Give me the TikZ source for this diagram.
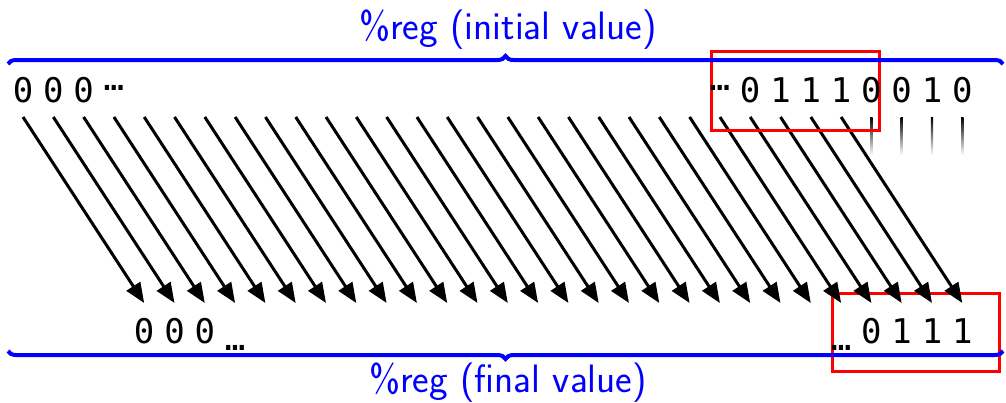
\documentclass[tikz,border=0pt]{standalone}
\usepackage{fontspec}
\newfontfamily\bitfont{DejaVu Sans Mono}
\usepackage{tikz}
\usetikzlibrary{arrows.meta,positioning,decorations.pathreplacing}
\newcommand{\cellx}[1]{23+30.3*#1}
\tikzset{
  bit/.style={font=\bitfont\fontsize{17}{17}\selectfont, inner sep=0pt, anchor=base},
  shiftarrow/.style={-{Triangle[length=10pt,width=8pt]}, line width=1.5pt},
  regbrace/.style={draw=blue, line width=2pt, decorate, decoration={brace, amplitude=4pt}},
  reglabel/.style={text=blue, font=\sffamily\fontsize{19.8}{22}\selectfont, inner sep=0pt},
  window/.style={draw=red, line width=1.5pt},
  dropped/.style={top color=black, bottom color=white, draw=none}
}

\begin{document}
\begin{tikzpicture}[x=0.5pt, y=-0.5pt]
  \useasboundingbox (0,0) rectangle (1006,402);
  % one start and one end per bit position
  \foreach \k in {0,...,31} {
    \coordinate (t\k) at ({\cellx{\k}},117);
    \coordinate (b\k) at ({\cellx{\k}},303);
  }
  \draw[window] (832,293) rectangle (999,371);
  % bits moved by the shift
  \foreach \k [evaluate=\k as \j using int(\k+4)] in {0,...,27}
    \draw[shiftarrow] (t\k) -- (b\j);
  % bits shifted out
  \foreach \k in {28,...,31}
    \shade[dropped] ([xshift=-0.6pt]t\k) rectangle ([xshift=0.6pt,yshift=-19pt]t\k);
  \draw[window] (711,51) rectangle (879,130);
  % initial value
  \foreach \k/\b in {0/0,1/0,2/0,24/0,25/1,26/1,27/1,28/0,29/0,30/1,31/0}
    \node[bit] (in\k) at ({\cellx{\k}},102) {\b};
  \node[bit] (in3) at ({\cellx{3}},90) {…};
  \node[bit] (in23) at ({\cellx{23}},90) {…};
  % final value
  \foreach \k/\b in {4/0,5/0,6/0,28/0,29/1,30/1,31/1}
    \node[bit] (out\k) at ({\cellx{\k}},343) {\b};
  \node[bit] (out7) at ({\cellx{7}},350) {…};
  \node[bit] (out27) at ({\cellx{27}},350) {…};
  \draw[regbrace] (8,64) -- (1003,64);
  \draw[regbrace, decoration={mirror}] (8,351) -- (1003,351);
  \node[reglabel] (initlbl) at (508,30) {\%reg (initial value)};
  \node[reglabel] (finallbl) at (508,383) {\%reg (final value)};
\end{tikzpicture}
\end{document}
